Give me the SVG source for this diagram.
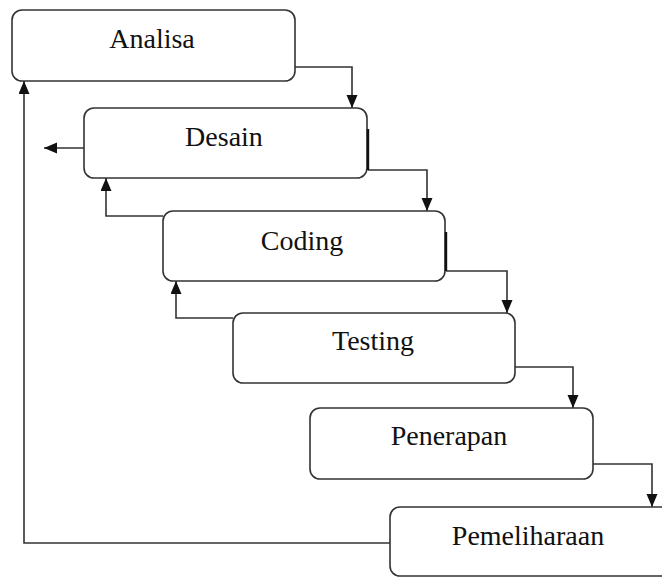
<svg xmlns="http://www.w3.org/2000/svg" width="662" height="577" viewBox="0 0 662 577">
  <style>
    .box { fill: #ffffff; stroke: #333333; stroke-width: 1.6; }
    .lbl { font-family: "Liberation Serif", "Times New Roman", serif; font-size: 28px; fill: #111111; text-anchor: middle; }
    .con { fill: none; stroke: #333333; stroke-width: 1.6; }
    .edge { fill: none; stroke: #111111; stroke-width: 2.4; }
  </style>
  <defs>
    <marker id="arr" markerUnits="userSpaceOnUse" markerWidth="14" markerHeight="12" refX="13" refY="5.5" orient="auto">
      <path d="M0,0 L13,5.5 L0,11 z" fill="#111111"/>
    </marker>
  </defs>
  <rect width="662" height="577" fill="#ffffff"/>
  <g id="connectors">
    <path class="con" d="M295,67 H352 V108" marker-end="url(#arr)"/>
    <path class="con" d="M368,170 H427 V211" marker-end="url(#arr)"/>
    <path class="con" d="M446,271 H507 V313" marker-end="url(#arr)"/>
    <path class="con" d="M515,367 H573 V408" marker-end="url(#arr)"/>
    <path class="con" d="M593,464 H652 V507" marker-end="url(#arr)"/>
    <path class="con" d="M390,543 H24 V81" marker-end="url(#arr)"/>
    <path class="con" d="M84,148 H44" marker-end="url(#arr)"/>
    <path class="con" d="M163,216 H106 V178" marker-end="url(#arr)"/>
    <path class="con" d="M233,318 H176 V281" marker-end="url(#arr)"/>
  </g>
  <g id="analisa">
    <rect class="box" x="12" y="10" width="283" height="71" rx="10"/>
    <text class="lbl" x="152" y="48">Analisa</text>
  </g>
  <g id="desain">
    <rect class="box" x="84" y="108" width="283" height="70" rx="10"/>
    <path class="edge" d="M368,129 V170"/>
    <text class="lbl" x="224" y="146">Desain</text>
  </g>
  <g id="coding">
    <rect class="box" x="163" y="211" width="282" height="70" rx="10"/>
    <path class="edge" d="M446,232 V271"/>
    <text class="lbl" x="302" y="250">Coding</text>
  </g>
  <g id="testing">
    <rect class="box" x="233" y="313" width="282" height="70" rx="10"/>
    <text class="lbl" x="373" y="350">Testing</text>
  </g>
  <g id="penerapan">
    <rect class="box" x="310" y="408" width="283" height="71" rx="10"/>
    <text class="lbl" x="449" y="445">Penerapan</text>
  </g>
  <g id="pemeliharaan">
    <rect class="box" x="390" y="507" width="290" height="69" rx="10"/>
    <text class="lbl" x="528" y="545">Pemeliharaan</text>
  </g>
</svg>
